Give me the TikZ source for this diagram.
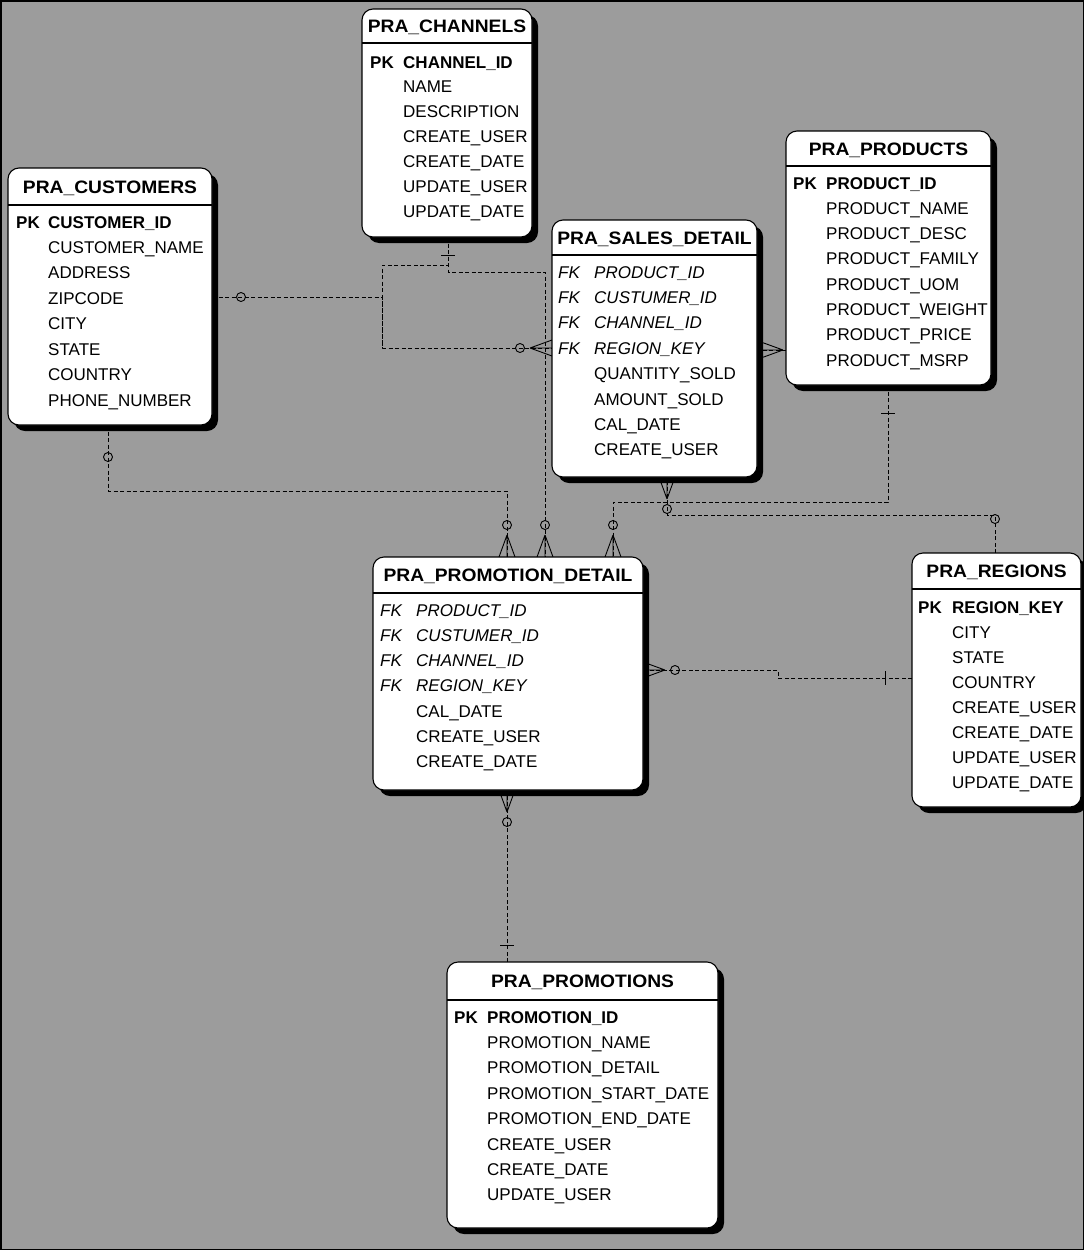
\documentclass[tikz,border=0pt]{standalone}
\usepackage{fontspec}
\setmainfont{Liberation Sans}
\newfontfamily\hdrfont{Liberation Sans}[FakeStretch=1.07]
\usetikzlibrary{shadows,calc,backgrounds}
\definecolor{paper}{RGB}{156,156,156}

\tikzset{
  tbl/.style={draw=black, line width=1.1pt, fill=white, rounded corners=11pt,
    anchor=north west, inner sep=0pt, outer sep=0pt,
    drop shadow={shadow xshift=6pt, shadow yshift=-6pt, fill=black, opacity=1}},
  ttl/.style={font=\hdrfont\bfseries\fontsize{18}{20}\selectfont, anchor=base, inner sep=0pt},
  fld/.style={font=\fontsize{17}{20}\selectfont, anchor=base west, inner sep=0pt},
  pkf/.style={fld, font=\bfseries\fontsize{17}{20}\selectfont},
  fkf/.style={fld, font=\itshape\fontsize{17}{20}\selectfont},
  rel/.style={draw=black, line width=0.9pt, dash pattern=on 4pt off 2.5pt},
  sym/.style={draw=black, line width=0.9pt},
  crow/.pic={\draw[sym] (0,0) -- (22,-8) (0,0) -- (22,0) (0,0) -- (22,8);},
  crowfoot/.pic={\draw[sym] (0,0) -- (22,-8) (0,0) -- (22,0) (0,0) -- (22,8);
                 \draw[sym] (-10,0) circle[radius=4.5pt];},
  opt/.pic={\draw[sym] (0,0) circle[radius=4.5pt];},
  bar/.pic={\draw[sym] (0,-7) -- (0,7);},
}

% table frame: name, header depth, title
\newcommand\tabhead[3]{%
  \draw[line width=1.1pt] ([yshift=-#2pt]#1.north west) -- ([yshift=-#2pt]#1.north east);
  \node[ttl] (#1-t) at ($(#1.north)+(0,#2/2+6.5)$) {#3};}

\begin{document}
\begin{tikzpicture}[x=1pt, y=-1pt]
\useasboundingbox (0,0) rectangle (1084,1250);

% ---------------- PRA_CHANNELS
\node[tbl, minimum width=170pt, minimum height=228pt] (chan) at (362,9) {};
\tabhead{chan}{34}{PRA\_CHANNELS}
\node[pkf] (chan-pk) at (370,68) {PK};
\node[pkf] (chan-0) at (403,68) {CHANNEL\_ID};
\foreach \t [count=\i from 1] in {NAME, DESCRIPTION, CREATE\_USER, CREATE\_DATE, UPDATE\_USER, UPDATE\_DATE}
  \node[fld] (chan-\i) at (403, 68+24.85*\i) {\t};

% ---------------- PRA_CUSTOMERS
\node[tbl, minimum width=204pt, minimum height=257pt] (cust) at (8,168) {};
\tabhead{cust}{37}{PRA\_CUSTOMERS}
\node[pkf] (cust-pk) at (16,228) {PK};
\node[pkf] (cust-0) at (48,228) {CUSTOMER\_ID};
\foreach \t [count=\i from 1] in {CUSTOMER\_NAME, ADDRESS, ZIPCODE, CITY, STATE, COUNTRY, PHONE\_NUMBER}
  \node[fld] (cust-\i) at (48, 228+25.43*\i) {\t};

% ---------------- PRA_PRODUCTS
\node[tbl, minimum width=205pt, minimum height=254pt] (prod) at (786,131) {};
\tabhead{prod}{35}{PRA\_PRODUCTS}
\node[pkf] (prod-pk) at (793,189) {PK};
\node[pkf] (prod-0) at (826,189) {PRODUCT\_ID};
\foreach \t [count=\i from 1] in {PRODUCT\_NAME, PRODUCT\_DESC, PRODUCT\_FAMILY, PRODUCT\_UOM, PRODUCT\_WEIGHT, PRODUCT\_PRICE, PRODUCT\_MSRP}
  \node[fld] (prod-\i) at (826, 189+25.3*\i) {\t};

% ---------------- PRA_SALES_DETAIL
\node[tbl, minimum width=205pt, minimum height=257pt] (sales) at (552,220) {};
\tabhead{sales}{35}{PRA\_SALES\_DETAIL}
\foreach \t [count=\i from 0] in {PRODUCT\_ID, CUSTUMER\_ID, CHANNEL\_ID, REGION\_KEY} {
  \node[fkf] (sales-fk\i) at (558, 278+25.4*\i) {FK};
  \node[fkf] (sales-\i) at (594, 278+25.4*\i) {\t};
}
\foreach \t [count=\i from 4] in {QUANTITY\_SOLD, AMOUNT\_SOLD, CAL\_DATE, CREATE\_USER}
  \node[fld] (sales-\i) at (594, 278+25.4*\i) {\t};

% ---------------- PRA_PROMOTION_DETAIL
\node[tbl, minimum width=270pt, minimum height=233pt] (pdet) at (373,557) {};
\tabhead{pdet}{36}{PRA\_PROMOTION\_DETAIL}
\foreach \t [count=\i from 0] in {PRODUCT\_ID, CUSTUMER\_ID, CHANNEL\_ID, REGION\_KEY} {
  \node[fkf] (pdet-fk\i) at (380, 616+25.3*\i) {FK};
  \node[fkf] (pdet-\i) at (416, 616+25.3*\i) {\t};
}
\foreach \t [count=\i from 4] in {CAL\_DATE, CREATE\_USER, CREATE\_DATE}
  \node[fld] (pdet-\i) at (416, 616+25.3*\i) {\t};

% ---------------- PRA_REGIONS
\node[tbl, minimum width=169pt, minimum height=254pt] (reg) at (912,553) {};
\tabhead{reg}{36}{PRA\_REGIONS}
\node[pkf] (reg-pk) at (918,613) {PK};
\node[pkf] (reg-0) at (952,613) {REGION\_KEY};
\foreach \t [count=\i from 1] in {CITY, STATE, COUNTRY, CREATE\_USER, CREATE\_DATE, UPDATE\_USER, UPDATE\_DATE}
  \node[fld] (reg-\i) at (952, 613+25*\i) {\t};

% ---------------- PRA_PROMOTIONS
\node[tbl, minimum width=271pt, minimum height=266pt] (promo) at (447,962) {};
\tabhead{promo}{38}{PRA\_PROMOTIONS}
\node[pkf] (promo-pk) at (454,1023) {PK};
\node[pkf] (promo-0) at (487,1023) {PROMOTION\_ID};
\foreach \t [count=\i from 1] in {PROMOTION\_NAME, PROMOTION\_DETAIL, PROMOTION\_START\_DATE, PROMOTION\_END\_DATE, CREATE\_USER, CREATE\_DATE, UPDATE\_USER}
  \node[fld] (promo-\i) at (487, 1023+25.4*\i) {\t};

% ---------------- relationship lines, behind the tables
\begin{scope}[on background layer]
  \fill[paper] (0,0) rectangle (1084,1250);

  % attachment points on the tables
  \coordinate (cuE) at ([yshift=-129pt]cust.north east);
  \coordinate (cuS) at ([xshift=100pt]cust.south west);
  \coordinate (chS) at ([xshift=86pt]chan.south west);
  \coordinate (prS) at ([xshift=102pt]prod.south west);
  \coordinate (prW) at ([yshift=-219pt]prod.north west);
  \coordinate (rgN) at ([xshift=83pt]reg.north west);
  \coordinate (rgW) at ([yshift=-125pt]reg.north west);
  \coordinate (pmN) at ([xshift=60pt]promo.north west);
  \coordinate (saW) at ([yshift=-128pt]sales.north west);
  \coordinate (saE) at ([yshift=-130pt]sales.north east);
  \coordinate (saS) at ([xshift=115pt]sales.south west);
  \coordinate (pdN1) at ([xshift=134pt]pdet.north west);
  \coordinate (pdN2) at ([xshift=172pt]pdet.north west);
  \coordinate (pdN3) at ([xshift=240pt]pdet.north west);
  \coordinate (pdE) at ([yshift=-113pt]pdet.north east);
  \coordinate (pdS) at ([xshift=134pt]pdet.south west);
  \coordinate (j1) at (382,0);
  \coordinate (j2) at (778,0);

  % customers -> sales detail
  \draw[rel] (cuE) -| (j1 |- saW) -- (saW);
  \pic at ($(cuE)+(29,0)$) {opt};
  % channels -> sales detail
  \draw[rel] (chS) -- ++(0,28) -| (j1 |- saW);
  \pic[rotate=90] at ($(chS)+(0,18)$) {bar};
  \pic at ($(saW)+(-22,0)$) {crowfoot};

  % channels -> promotion detail
  \draw[rel] (chS) -- ++(0,35) -| (pdN2);
  \pic[rotate=-90] at ($(pdN2)+(0,-22)$) {crowfoot};

  % customers -> promotion detail
  \draw[rel] (cuS) -- ++(0,66) -| (pdN1);
  \pic at ($(cuS)+(0,32)$) {opt};
  \pic[rotate=-90] at ($(pdN1)+(0,-22)$) {crowfoot};

  % products -> promotion detail
  \draw[rel] (prS) -- ++(0,117) -| (pdN3);
  \pic[rotate=90] at ($(prS)+(0,28)$) {bar};
  \pic[rotate=-90] at ($(pdN3)+(0,-22)$) {crowfoot};

  % products -> sales detail
  \draw[rel] (prW) -- (saE |- prW);
  \pic[rotate=180, scale=0.9] at ($(saE |- prW)+(26,0)$) {crow};

  % regions -> sales detail
  \draw[rel] (rgN) -- ++(0,-38) -| (saS);
  \pic at ($(rgN)+(0,-34)$) {opt};
  \pic[rotate=90] at ($(saS)+(0,22)$) {crowfoot};

  % regions -> promotion detail
  \draw[rel] (rgW) -| (j2 |- pdE) -- (pdE);
  \pic at ($(rgW)+(-27,0)$) {bar};
  \pic[rotate=180] at ($(pdE)+(22,0)$) {crowfoot};

  % promotions -> promotion detail
  \draw[rel] (pmN) -- (pdS);
  \pic[rotate=90] at ($(pmN)+(0,-17)$) {bar};
  \pic[rotate=90] at ($(pdS)+(0,22)$) {crowfoot};
\end{scope}

% outer frame
\draw[black, line width=1.5pt] (0.75,0.75) rectangle (1083.25,1249.25);
\end{tikzpicture}
\end{document}
